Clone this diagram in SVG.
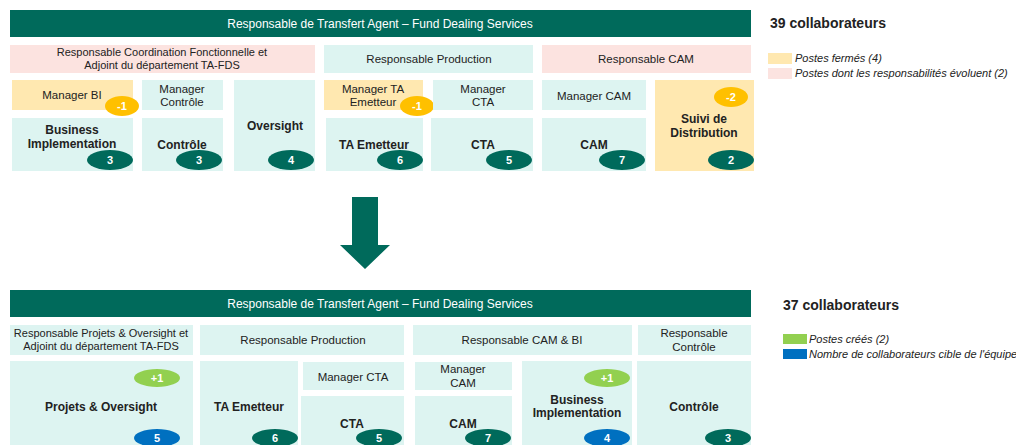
<svg xmlns="http://www.w3.org/2000/svg" width="1016" height="445" viewBox="0 0 1016 445">
<style>
text{font-family:"Liberation Sans",Arial,sans-serif;fill:#222;text-anchor:middle}
.hd{fill:#006A5B}
.hdt{fill:#fff;font-size:12px}
.t{fill:#DDF4F1}
.p{fill:#FCE3E0}
.y{fill:#FFE8B0}
.n{font-size:11.5px}
.s{font-size:11px}
.b{font-size:12px;font-weight:bold}
.bd{fill:#006A5B}
.bo{fill:#FFC000}
.bg{fill:#92D050}
.bb{fill:#0070C0}
.bt{fill:#fff;font-size:11px;font-weight:bold}
.lg{font-size:11px;font-style:italic;text-anchor:start}
.cnt{font-size:14px;font-weight:bold;text-anchor:start}
</style>
<rect width="1016" height="445" fill="#fff"/>

<!-- TOP -->
<g id="top-header"><rect class="hd" x="10" y="10" width="741" height="27"/><text class="hdt" x="380" y="28">Responsable de Transfert Agent – Fund Dealing Services</text></g>
<g id="top-coord"><rect class="p" x="10" y="45" width="305" height="28"/><text class="s" x="162" y="56">Responsable Coordination Fonctionnelle et</text><text class="s" x="162" y="69">Adjoint du département TA-FDS</text></g>
<g id="top-prod"><rect class="t" x="324" y="45" width="209" height="28"/><text class="n" x="429" y="63">Responsable Production</text></g>
<g id="top-cam"><rect class="p" x="542" y="45" width="209" height="28"/><text class="n" x="646" y="63">Responsable CAM</text></g>

<g id="top-mgr-bi"><rect class="y" x="12" y="80" width="121" height="30"/><text class="n" x="72" y="99">Manager BI</text><ellipse class="bo" cx="122" cy="106" rx="17" ry="10"/><text class="bt" x="122" y="110">-1</text></g>
<g id="top-mgr-ctrl"><rect class="t" x="142" y="80" width="81" height="30"/><text class="n" x="182" y="93">Manager</text><text class="n" x="182" y="106">Contrôle</text></g>
<g id="top-oversight"><rect class="t" x="234" y="80" width="81" height="91"/><text class="b" x="275" y="130">Oversight</text><ellipse class="bd" cx="291" cy="160" rx="23" ry="10"/><text class="bt" x="291" y="164">4</text></g>
<g id="top-mgr-tae"><rect class="y" x="324" y="80" width="99" height="30"/><text class="n" x="373" y="93">Manager TA</text><text class="n" x="373" y="106">Emetteur</text><ellipse class="bo" cx="417" cy="106" rx="17" ry="10"/><text class="bt" x="417" y="110">-1</text></g>
<g id="top-mgr-cta"><rect class="t" x="433" y="80" width="100" height="30"/><text class="n" x="483" y="93">Manager</text><text class="n" x="483" y="106">CTA</text></g>
<g id="top-mgr-cam"><rect class="t" x="542" y="80" width="104" height="30"/><text class="n" x="594" y="100">Manager CAM</text></g>
<g id="top-suivi"><rect class="y" x="655" y="80" width="99" height="91"/><ellipse class="bo" cx="731" cy="97" rx="17" ry="10"/><text class="bt" x="731" y="101">-2</text><text class="b" x="704" y="123">Suivi de</text><text class="b" x="704" y="137">Distribution</text><ellipse class="bd" cx="731" cy="160" rx="23" ry="10"/><text class="bt" x="731" y="164">2</text></g>

<g id="top-bi"><rect class="t" x="12" y="118" width="121" height="53"/><text class="b" x="72" y="134">Business</text><text class="b" x="72" y="148">Implementation</text><ellipse class="bd" cx="110" cy="160" rx="23" ry="10"/><text class="bt" x="110" y="164">3</text></g>
<g id="top-ctrl"><rect class="t" x="142" y="118" width="81" height="53"/><text class="b" x="182" y="149">Contrôle</text><ellipse class="bd" cx="199" cy="160" rx="23" ry="10"/><text class="bt" x="199" y="164">3</text></g>
<g id="top-tae"><rect class="t" x="326" y="118" width="97" height="53"/><text class="b" x="374" y="149">TA Emetteur</text><ellipse class="bd" cx="400" cy="160" rx="23" ry="10"/><text class="bt" x="400" y="164">6</text></g>
<g id="top-cta"><rect class="t" x="431" y="118" width="102" height="53"/><text class="b" x="483" y="149">CTA</text><ellipse class="bd" cx="509" cy="160" rx="23" ry="10"/><text class="bt" x="509" y="164">5</text></g>
<g id="top-camb"><rect class="t" x="542" y="118" width="104" height="53"/><text class="b" x="594" y="149">CAM</text><ellipse class="bd" cx="622" cy="160" rx="23" ry="10"/><text class="bt" x="622" y="164">7</text></g>

<g id="top-legend"><text class="cnt" x="770" y="28">39 collaborateurs</text><rect class="y" x="768" y="53" width="24" height="11"/><text class="lg" x="795" y="62">Postes fermés (4)</text><rect class="p" x="768" y="68" width="24" height="11"/><text class="lg" x="795" y="77">Postes dont les responsabilités évoluent (2)</text></g>

<g id="arrow"><polygon fill="#006A5B" points="352,197 378,197 378,245 390,245 365,269 340,245 352,245"/></g>

<!-- BOTTOM -->
<g id="bot-header"><rect class="hd" x="10" y="290" width="741" height="27"/><text class="hdt" x="380" y="308">Responsable de Transfert Agent – Fund Dealing Services</text></g>
<g id="bot-projets-resp"><rect class="t" x="10" y="325" width="183" height="30"/><text class="s" x="101" y="337">Responsable Projets &amp; Oversight et</text><text class="s" x="101" y="350">Adjoint du département TA-FDS</text></g>
<g id="bot-prod"><rect class="t" x="200" y="325" width="204" height="30"/><text class="n" x="303" y="344">Responsable Production</text></g>
<g id="bot-cambi"><rect class="t" x="413" y="325" width="219" height="30"/><text class="n" x="522" y="344">Responsable CAM &amp; BI</text></g>
<g id="bot-ctrl-resp"><rect class="t" x="638" y="325" width="113" height="30"/><text class="n" x="694" y="337">Responsable</text><text class="n" x="694" y="351">Contrôle</text></g>

<g id="bot-projets"><rect class="t" x="10" y="361" width="183" height="84"/><ellipse class="bg" cx="157" cy="378" rx="23" ry="9"/><text class="bt" x="157" y="382">+1</text><text class="b" x="101" y="411">Projets &amp; Oversight</text><ellipse class="bb" cx="157" cy="438" rx="23" ry="9"/><text class="bt" x="157" y="442">5</text></g>
<g id="bot-tae"><rect class="t" x="200" y="361" width="98" height="84"/><text class="b" x="249" y="411">TA Emetteur</text><ellipse class="bd" cx="275" cy="438" rx="23" ry="9"/><text class="bt" x="275" y="442">6</text></g>
<g id="bot-mgr-cta"><rect class="t" x="303" y="362" width="101" height="28"/><text class="n" x="353" y="381">Manager CTA</text></g>
<g id="bot-cta"><rect class="t" x="301" y="396" width="103" height="49"/><text class="b" x="352" y="428">CTA</text><ellipse class="bd" cx="379" cy="438" rx="23" ry="9"/><text class="bt" x="379" y="442">5</text></g>
<g id="bot-mgr-cam"><rect class="t" x="415" y="362" width="97" height="28"/><text class="n" x="463" y="373">Manager</text><text class="n" x="463" y="387">CAM</text></g>
<g id="bot-cam"><rect class="t" x="415" y="396" width="97" height="49"/><text class="b" x="463" y="428">CAM</text><ellipse class="bd" cx="488" cy="438" rx="23" ry="9"/><text class="bt" x="488" y="442">7</text></g>
<g id="bot-bi"><rect class="t" x="522" y="361" width="110" height="84"/><ellipse class="bg" cx="607" cy="378" rx="23" ry="9"/><text class="bt" x="607" y="382">+1</text><text class="b" x="577" y="404">Business</text><text class="b" x="577" y="417">Implementation</text><ellipse class="bb" cx="607" cy="438" rx="23" ry="9"/><text class="bt" x="607" y="442">4</text></g>
<g id="bot-ctrl"><rect class="t" x="637" y="361" width="114" height="84"/><text class="b" x="694" y="411">Contrôle</text><ellipse class="bd" cx="728" cy="438" rx="23" ry="9"/><text class="bt" x="728" y="442">3</text></g>

<g id="bot-legend"><text class="cnt" x="783" y="310">37 collaborateurs</text><rect class="bg" x="783" y="334" width="24" height="10"/><text class="lg" x="809" y="343">Postes créés (2)</text><rect class="bb" x="783" y="349" width="24" height="10"/><text class="lg" x="809" y="358">Nombre de collaborateurs cible de l'équipe</text></g>

<g id="connectors"></g>
</svg>
